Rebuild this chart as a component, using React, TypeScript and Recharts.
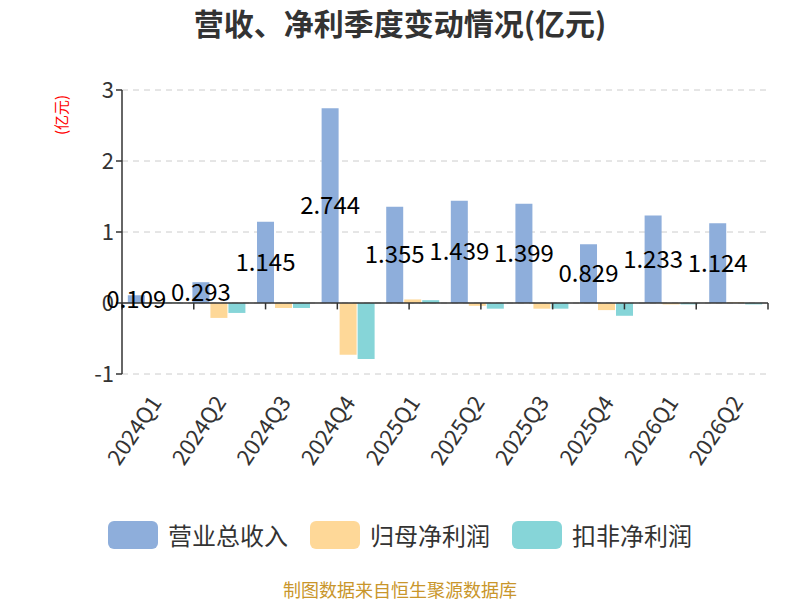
import React from "react";
import {
  ComposedChart,
  Bar,
  XAxis,
  YAxis,
  CartesianGrid,
  ReferenceLine,
  LabelList,
} from "recharts";

const quarters = [
  "2024Q1", "2024Q2", "2024Q3", "2024Q4", "2025Q1",
  "2025Q2", "2025Q3", "2025Q4", "2026Q1", "2026Q2",
];
const revenue = [0.109, 0.293, 1.145, 2.744, 1.355, 1.439, 1.399, 0.829, 1.233, 1.124];
const parentProfit = [0.003, -0.21, -0.07, -0.73, 0.05, -0.04, -0.08, -0.1, -0.02, 0.01];
const deductedProfit = [0.006, -0.14, -0.07, -0.79, 0.04, -0.08, -0.08, -0.18, -0.02, -0.02];
const yTicks = [-1, 0, 1, 2, 3];
const boundaries = quarters.map((_, i) => i).concat(quarters.length);

const seriesNames = ["营业总收入", "归母净利润", "扣非净利润"];
const colors = ["#8eaedb", "#fed898", "#86d5d8"];

const FONT = "'Noto Sans CJK SC', 'Noto Sans', sans-serif";

const data = quarters.map((q, i) => ({
  quarter: q,
  rev: revenue[i],
  parent: parentProfit[i],
  deducted: deductedProfit[i],
}));

function QuarterTick(props: any) {
  const { x, y, payload } = props;
  const ty = y + 15;
  return (
    <text
      x={x}
      y={ty}
      transform={`rotate(-56, ${x}, ${ty})`}
      textAnchor="end"
      dominantBaseline="central"
      fontSize={22}
      fill="#333"
      fontFamily={FONT}
    >
      {payload.value}
    </text>
  );
}

export default function App() {
  return (
    <div style={{ position: "relative", width: 800, height: 600, fontFamily: FONT, background: "#fff" }}>
      <style>{`body{margin:0}`}</style>
      <div
        style={{
          position: "absolute",
          top: 3,
          left: 0,
          width: 800,
          textAlign: "center",
          fontSize: 30,
          fontWeight: 700,
          color: "#333",
          lineHeight: "38px",
        }}
      >
        营收、净利季度变动情况(亿元)
      </div>
      <svg style={{ position: "absolute", left: 0, top: 0 }} width={80} height={160}>
        <text
          x={60}
          y={115}
          transform="rotate(-90, 60, 115)"
          textAnchor="middle"
          dominantBaseline="central"
          fontSize={15}
          fill="#ff0000"
          fontFamily={FONT}
        >
          (亿元)
        </text>
      </svg>
      <div style={{ position: "absolute", left: 0, top: 0 }}>
        <ComposedChart
          width={800}
          height={600}
          data={data}
          margin={{ top: 90, right: 32, left: 0, bottom: 0 }}
          barCategoryGap="9%"
          barGap={1}
        >
          <CartesianGrid vertical={false} stroke="#ccc" strokeDasharray="6 5" />
          <XAxis
            dataKey="quarter"
            axisLine={false}
            tickLine={false}
            interval={0}
            height={226}
            tick={<QuarterTick />}
          />
          <XAxis xAxisId="b" type="number" domain={[0, quarters.length]} hide />
          <YAxis
            width={122}
            domain={[-1, 3]}
            ticks={yTicks}
            interval={0}
            axisLine={{ stroke: "#333", strokeWidth: 1.5 }}
            tickLine={{ stroke: "#333", strokeWidth: 1.5 }}
            tickSize={6}
            tick={{ fontSize: 22, fill: "#333", fontFamily: FONT }}
          />
          <Bar dataKey="rev" name={seriesNames[0]} fill={colors[0]} isAnimationActive={false}>
            <LabelList dataKey="rev" position="center" fill="#000" fontSize={24} fontFamily={FONT} />
          </Bar>
          <Bar dataKey="parent" name={seriesNames[1]} fill={colors[1]} isAnimationActive={false} />
          <Bar dataKey="deducted" name={seriesNames[2]} fill={colors[2]} isAnimationActive={false} />
          <ReferenceLine y={0} stroke="#333" strokeWidth={1.5} />
          {boundaries.map((b) => (
            <ReferenceLine
              key={b}
              xAxisId="b"
              segment={[{ x: b, y: 0 }, { x: b, y: -0.09 }]}
              stroke="#333"
              strokeWidth={1.5}
            />
          ))}
        </ComposedChart>
      </div>
      <div
        style={{
          position: "absolute",
          top: 521,
          left: 0,
          width: 800,
          display: "flex",
          justifyContent: "center",
          alignItems: "center",
          gap: 22,
        }}
      >
        {seriesNames.map((n, i) => (
          <div key={n} style={{ display: "flex", alignItems: "center", gap: 10 }}>
            <div style={{ width: 50, height: 28, borderRadius: 6, background: colors[i] }} />
            <span style={{ fontSize: 24, color: "#333", lineHeight: "28px" }}>{n}</span>
          </div>
        ))}
      </div>
      <div
        style={{
          position: "absolute",
          top: 578,
          left: 0,
          width: 800,
          textAlign: "center",
          fontSize: 18,
          color: "#c9962b",
          lineHeight: "22px",
        }}
      >
        制图数据来自恒生聚源数据库
      </div>
    </div>
  );
}
